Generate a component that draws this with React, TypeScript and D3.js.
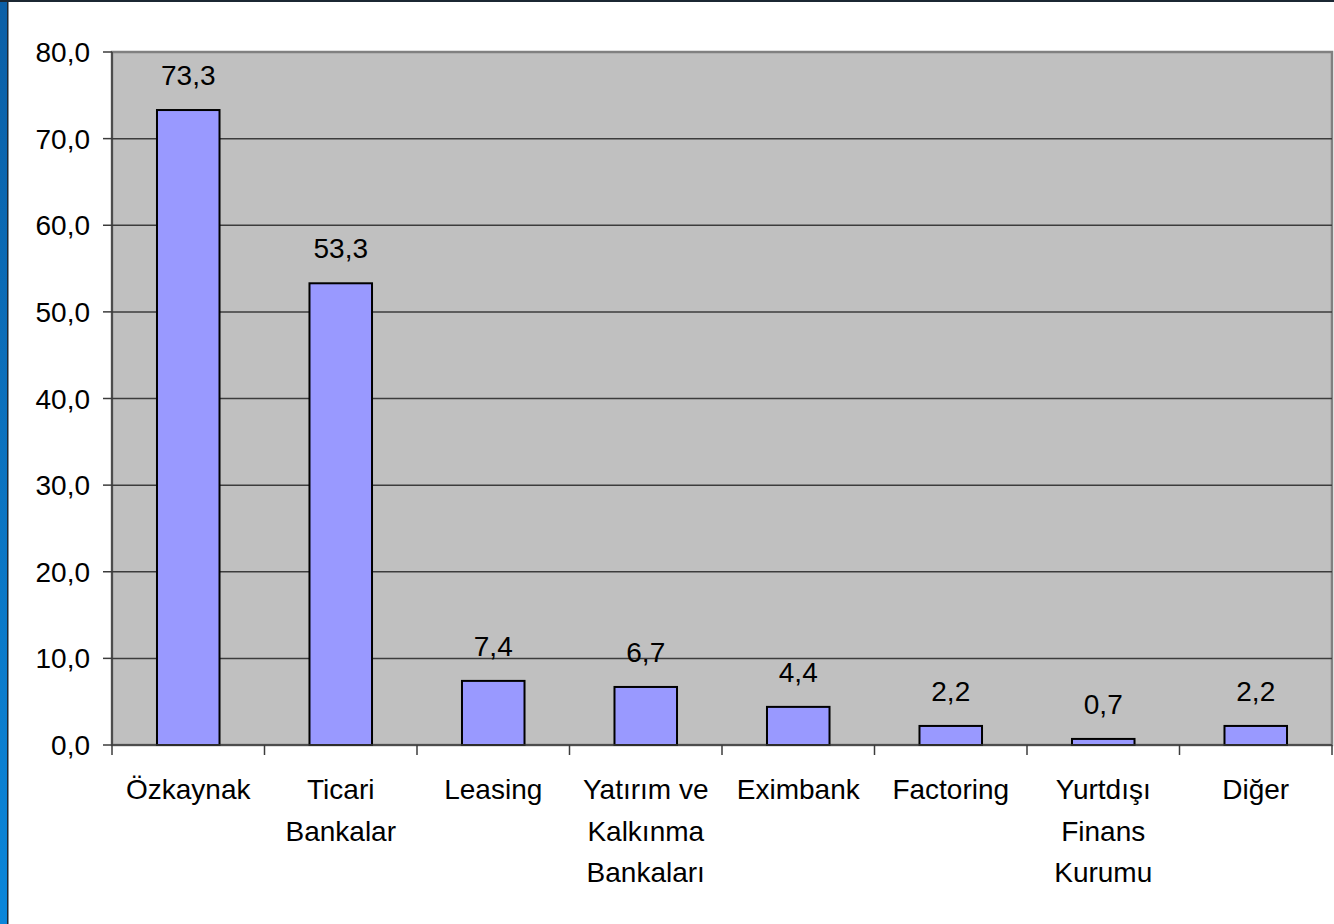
import React, { useEffect, useRef } from "react";
import * as d3 from "d3";

// values
const categories = [
  ["Özkaynak"],
  ["Ticari", "Bankalar"],
  ["Leasing"],
  ["Yatırım ve", "Kalkınma", "Bankaları"],
  ["Eximbank"],
  ["Factoring"],
  ["Yurtdışı", "Finans", "Kurumu"],
  ["Diğer"],
];
const values = [73.3, 53.3, 7.4, 6.7, 4.4, 2.2, 0.7, 2.2];
const yTicks = [0, 10, 20, 30, 40, 50, 60, 70, 80];

const W = 1334;
const H = 924;
const fmt = (v: number) => v.toFixed(1).replace(".", ",");

const App: React.FC = () => {
  const ref = useRef<SVGSVGElement>(null);

  useEffect(() => {
    const svg = d3.select(ref.current);
    svg.selectAll("*").remove();

    const margin = { top: 52, right: 2, bottom: 179, left: 112 };
    const keys = categories.map((c) => c.join(" "));

    const x = d3.scaleBand<string>()
      .domain(keys)
      .range([margin.left, W - margin.right])
      .paddingInner(0.59)
      .paddingOuter(0.295);
    const step = x.step();
    const y = d3.scaleLinear().domain([0, 80]).range([H - margin.bottom, margin.top]);

    // frame: blue strip on the left, dark line on top
    const defs = svg.append("defs");
    const grad = defs.append("linearGradient").attr("id", "edge").attr("x1", 0).attr("y1", 0).attr("x2", 0).attr("y2", 1);
    grad.append("stop").attr("offset", "0%").attr("stop-color", "#0b5fa6");
    grad.append("stop").attr("offset", "100%").attr("stop-color", "#0a86da");
    svg.append("rect").attr("x", 0).attr("y", 0).attr("width", W).attr("height", H).attr("fill", "#fff");
    svg.append("rect").attr("x", 0).attr("y", 0).attr("width", 7).attr("height", H).attr("fill", "url(#edge)");
    svg.append("rect").attr("x", 7).attr("y", 0).attr("width", 1.5).attr("height", H).attr("fill", "#1b2733");
    svg.append("rect").attr("x", 0).attr("y", 0).attr("width", W).attr("height", 2).attr("fill", "#1b2733");

    const x0 = margin.left, x1 = W - margin.right;

    // plot area
    svg.append("rect")
      .attr("x", x0).attr("y", y(80))
      .attr("width", x1 - x0).attr("height", y(0) - y(80))
      .attr("fill", "#c0c0c0")
      .attr("stroke", "#808080").attr("stroke-width", 2.5);

    // gridlines
    svg.append("g").selectAll("line")
      .data(yTicks.filter((t) => t > 0 && t < 80))
      .join("line")
      .attr("x1", x0).attr("x2", x1)
      .attr("y1", (d) => y(d)).attr("y2", (d) => y(d))
      .attr("stroke", "#3c3c3c").attr("stroke-width", 1.5);

    // bars
    svg.append("g").selectAll("rect")
      .data(values)
      .join("rect")
      .attr("x", (_, i) => x(keys[i])!)
      .attr("y", (d) => y(d))
      .attr("width", x.bandwidth())
      .attr("height", (d) => y(0) - y(d))
      .attr("fill", "#9999ff")
      .attr("stroke", "#000").attr("stroke-width", 2);

    // value labels
    svg.append("g").selectAll("text")
      .data(values)
      .join("text")
      .attr("x", (_, i) => x(keys[i])! + x.bandwidth() / 2)
      .attr("y", (d) => y(d) - 25)
      .attr("text-anchor", "middle")
      .attr("font-family", "'Liberation Sans', Arial, sans-serif")
      .attr("font-size", 28)
      .attr("fill", "#000")
      .text((d) => fmt(d));

    // y axis
    const yAxis = svg.append("g");
    yAxis.append("line").attr("x1", x0).attr("x2", x0).attr("y1", y(0)).attr("y2", y(80)).attr("stroke", "#3c3c3c").attr("stroke-width", 1.5);
    yAxis.selectAll("line.tick").data(yTicks).join("line").attr("class", "tick")
      .attr("x1", x0 - 9).attr("x2", x0)
      .attr("y1", (d) => y(d)).attr("y2", (d) => y(d))
      .attr("stroke", "#3c3c3c").attr("stroke-width", 1.5);
    yAxis.selectAll("text").data(yTicks).join("text")
      .attr("x", 90).attr("y", (d) => y(d))
      .attr("dy", "0.36em")
      .attr("text-anchor", "end")
      .attr("font-family", "'Liberation Sans', Arial, sans-serif")
      .attr("font-size", 28)
      .text((d) => fmt(d));

    // x axis
    const xAxis = svg.append("g");
    xAxis.append("line").attr("x1", x0).attr("x2", x1).attr("y1", y(0)).attr("y2", y(0)).attr("stroke", "#3c3c3c").attr("stroke-width", 1.5);
    const bounds = d3.range(keys.length + 1).map((i) => x0 + i * step);
    xAxis.selectAll("line.tick").data(bounds).join("line").attr("class", "tick")
      .attr("x1", (d) => d).attr("x2", (d) => d)
      .attr("y1", y(0)).attr("y2", y(0) + 10)
      .attr("stroke", "#3c3c3c").attr("stroke-width", 1.5);
    const labels = xAxis.selectAll("text").data(categories).join("text")
      .attr("x", (_, i) => x(keys[i])! + x.bandwidth() / 2)
      .attr("y", y(0) + 54)
      .attr("text-anchor", "middle")
      .attr("font-family", "'Liberation Sans', Arial, sans-serif")
      .attr("font-size", 28);
    labels.each(function (lines) {
      const t = d3.select(this);
      const cx = t.attr("x");
      lines.forEach((ln, j) => {
        t.append("tspan").attr("x", cx).attr("dy", j === 0 ? 0 : 41.5).text(ln);
      });
    });
  }, []);

  return (
    <div style={{ position: "fixed", left: 0, top: 0, width: W, height: H }}>
      <svg ref={ref} width={W} height={H} style={{ display: "block" }} />
    </div>
  );
};

export default App;
